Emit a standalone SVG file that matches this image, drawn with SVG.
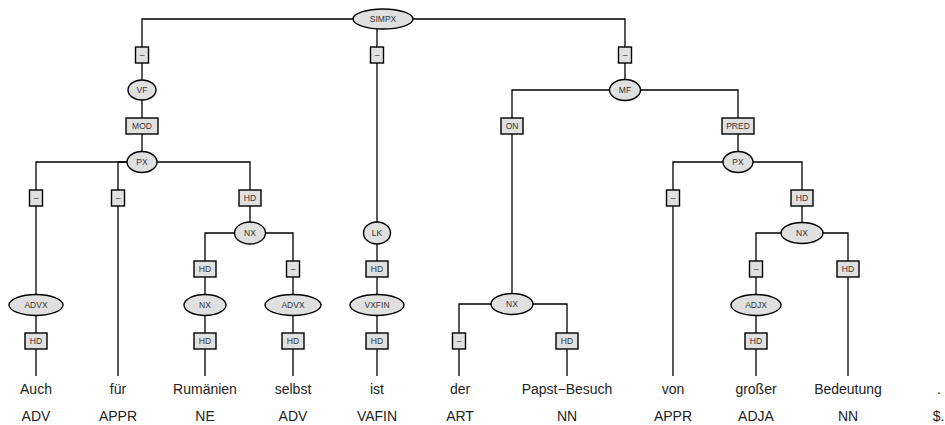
<svg xmlns="http://www.w3.org/2000/svg" width="945" height="425" viewBox="0 0 945 425">
<style>
.e{fill:#e0e0e0;stroke:#000;stroke-width:1.4}
.b{fill:#e0e0e0;stroke:#000;stroke-width:1.4}
.l{font-family:"Liberation Sans",Arial,sans-serif;font-size:8.5px;fill:#333;text-anchor:middle}
.w{font-family:"Liberation Sans",Arial,sans-serif;font-size:14px;fill:#222;text-anchor:middle}
#edges path{fill:none;stroke:#000;stroke-width:1.3}
</style>
<rect width="945" height="425" fill="#fff"/>
<g id="edges">
<path d="M383 19 H142 V90"/>
<path d="M377 19 V376"/>
<path d="M383 19 H625 V90"/>
<path d="M142 90 V162"/>
<path d="M142 162 H36 V376"/>
<path d="M142 162 H118 V376"/>
<path d="M142 162 H250 V233"/>
<path d="M250 233 H205 V376"/>
<path d="M250 233 H293 V376"/>
<path d="M625 90 H512 V304"/>
<path d="M625 90 H738 V162"/>
<path d="M512 304 H459 V376"/>
<path d="M512 304 H567 V376"/>
<path d="M738 162 H673 V376"/>
<path d="M738 162 H802 V233"/>
<path d="M802 233 H756 V376"/>
<path d="M802 233 H848 V376"/>
</g>
<g id="n_simpx"><ellipse class="e" cx="383" cy="19" rx="30" ry="10"/><text class="l" x="383" y="21.5">SIMPX</text></g>
<g id="b_1"><rect class="b" x="135.5" y="47" width="13" height="16"/><text class="l" x="142" y="57.5">–</text></g>
<g id="n_vf"><ellipse class="e" cx="142" cy="90" rx="14" ry="10"/><text class="l" x="142" y="92.5">VF</text></g>
<g id="b_mod"><rect class="b" x="126" y="118" width="32" height="16"/><text class="l" x="142" y="128.5">MOD</text></g>
<g id="n_px1"><ellipse class="e" cx="142" cy="162" rx="15" ry="10.5"/><text class="l" x="142" y="164.5">PX</text></g>
<g id="b_2"><rect class="b" x="29.5" y="190" width="13" height="16"/><text class="l" x="36" y="200.5">–</text></g>
<g id="b_3"><rect class="b" x="111.5" y="190" width="13" height="16"/><text class="l" x="118" y="200.5">–</text></g>
<g id="b_4"><rect class="b" x="239" y="190" width="22" height="16"/><text class="l" x="250" y="200.5">HD</text></g>
<g id="n_nx1"><ellipse class="e" cx="250" cy="233" rx="15.5" ry="11"/><text class="l" x="250" y="235.5">NX</text></g>
<g id="b_5"><rect class="b" x="194" y="261" width="22" height="16"/><text class="l" x="205" y="271.5">HD</text></g>
<g id="b_6"><rect class="b" x="286.5" y="261" width="13" height="16"/><text class="l" x="293" y="271.5">–</text></g>
<g id="n_advx1"><ellipse class="e" cx="36" cy="305" rx="27" ry="10.5"/><text class="l" x="36" y="307.5">ADVX</text></g>
<g id="n_nx2"><ellipse class="e" cx="205" cy="305" rx="21" ry="10.5"/><text class="l" x="205" y="307.5">NX</text></g>
<g id="n_advx2"><ellipse class="e" cx="293" cy="305" rx="28" ry="10.5"/><text class="l" x="293" y="307.5">ADVX</text></g>
<g id="b_7"><rect class="b" x="25" y="333" width="22" height="16"/><text class="l" x="36" y="343.5">HD</text></g>
<g id="b_8"><rect class="b" x="194" y="333" width="22" height="16"/><text class="l" x="205" y="343.5">HD</text></g>
<g id="b_9"><rect class="b" x="282" y="333" width="22" height="16"/><text class="l" x="293" y="343.5">HD</text></g>
<g id="b_10"><rect class="b" x="370.5" y="47" width="13" height="16"/><text class="l" x="377" y="57.5">–</text></g>
<g id="n_lk"><ellipse class="e" cx="377" cy="233" rx="13.5" ry="11"/><text class="l" x="377" y="235.5">LK</text></g>
<g id="b_11"><rect class="b" x="366" y="261" width="22" height="16"/><text class="l" x="377" y="271.5">HD</text></g>
<g id="n_vxfin"><ellipse class="e" cx="377" cy="305" rx="27" ry="10.5"/><text class="l" x="377" y="307.5">VXFIN</text></g>
<g id="b_12"><rect class="b" x="366" y="333" width="22" height="16"/><text class="l" x="377" y="343.5">HD</text></g>
<g id="b_13"><rect class="b" x="618.5" y="47" width="13" height="16"/><text class="l" x="625" y="57.5">–</text></g>
<g id="n_mf"><ellipse class="e" cx="625" cy="90" rx="15.5" ry="10.5"/><text class="l" x="625" y="92.5">MF</text></g>
<g id="b_on"><rect class="b" x="501" y="118" width="22" height="16"/><text class="l" x="512" y="128.5">ON</text></g>
<g id="b_pred"><rect class="b" x="722" y="118" width="32" height="16"/><text class="l" x="738" y="128.5">PRED</text></g>
<g id="n_nx3"><ellipse class="e" cx="512" cy="304" rx="21" ry="10.5"/><text class="l" x="512" y="306.5">NX</text></g>
<g id="b_14"><rect class="b" x="452.5" y="333" width="13" height="16"/><text class="l" x="459" y="343.5">–</text></g>
<g id="b_15"><rect class="b" x="556" y="333" width="22" height="16"/><text class="l" x="567" y="343.5">HD</text></g>
<g id="n_px2"><ellipse class="e" cx="738" cy="162" rx="15" ry="10.5"/><text class="l" x="738" y="164.5">PX</text></g>
<g id="b_16"><rect class="b" x="666.5" y="190" width="13" height="16"/><text class="l" x="673" y="200.5">–</text></g>
<g id="b_17"><rect class="b" x="791" y="190" width="22" height="16"/><text class="l" x="802" y="200.5">HD</text></g>
<g id="n_nx4"><ellipse class="e" cx="802" cy="233" rx="21" ry="10.5"/><text class="l" x="802" y="235.5">NX</text></g>
<g id="b_18"><rect class="b" x="749.5" y="261" width="13" height="16"/><text class="l" x="756" y="271.5">–</text></g>
<g id="b_19"><rect class="b" x="837" y="261" width="22" height="16"/><text class="l" x="848" y="271.5">HD</text></g>
<g id="n_adjx"><ellipse class="e" cx="756" cy="305" rx="25" ry="10.5"/><text class="l" x="756" y="307.5">ADJX</text></g>
<g id="b_20"><rect class="b" x="745" y="333" width="22" height="16"/><text class="l" x="756" y="343.5">HD</text></g>
<g id="words">
<text class="w" x="36" y="394">Auch</text>
<text class="w" x="118" y="394">für</text>
<text class="w" x="205" y="394">Rumänien</text>
<text class="w" x="293" y="394">selbst</text>
<text class="w" x="377" y="394">ist</text>
<text class="w" x="460" y="394">der</text>
<text class="w" x="567" y="394">Papst−Besuch</text>
<text class="w" x="673" y="394">von</text>
<text class="w" x="756" y="394">großer</text>
<text class="w" x="848" y="394">Bedeutung</text>
<text class="w" x="939" y="394">.</text>
</g>
<g id="tags">
<text class="w" x="36" y="421">ADV</text>
<text class="w" x="118" y="421">APPR</text>
<text class="w" x="205" y="421">NE</text>
<text class="w" x="293" y="421">ADV</text>
<text class="w" x="377" y="421">VAFIN</text>
<text class="w" x="460" y="421">ART</text>
<text class="w" x="567" y="421">NN</text>
<text class="w" x="673" y="421">APPR</text>
<text class="w" x="756" y="421">ADJA</text>
<text class="w" x="848" y="421">NN</text>
<text class="w" x="938.5" y="421">$.</text>
</g>
</svg>
